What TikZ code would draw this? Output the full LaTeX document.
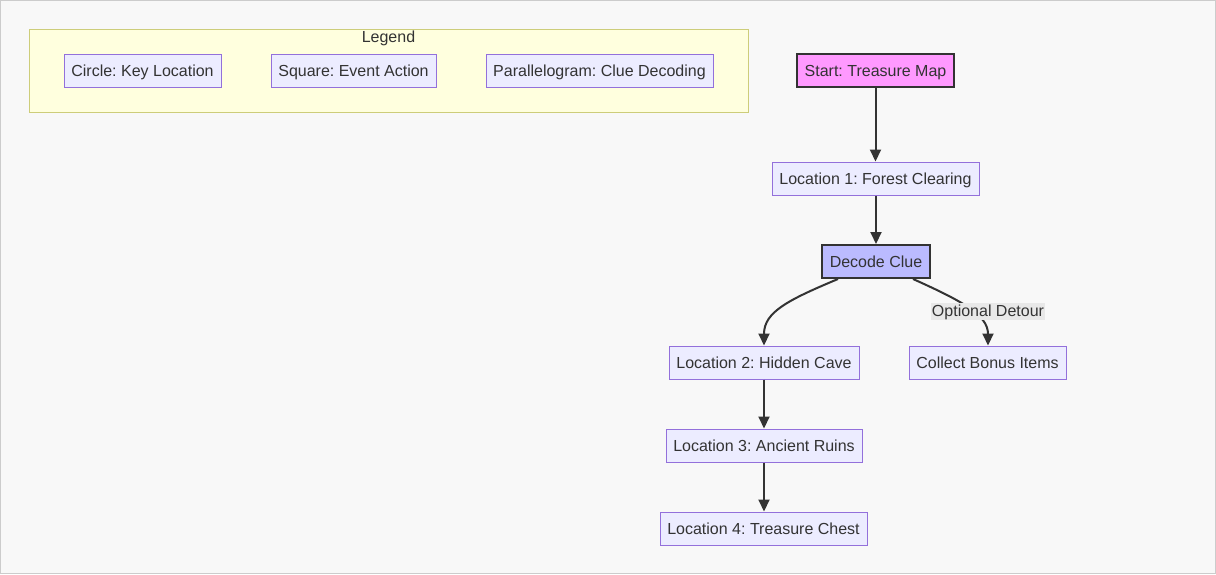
\documentclass[tikz,border=0pt]{standalone}
\usepackage{fontspec}
\setmainfont{Liberation Sans}
\usetikzlibrary{arrows.meta}
\frenchspacing
\definecolor{bg}{HTML}{F8F8F8}
\definecolor{frame}{HTML}{CCCCCC}
\definecolor{nfill}{HTML}{ECECFF}
\definecolor{nstroke}{HTML}{9370DB}
\definecolor{txt}{HTML}{333333}
\definecolor{legfill}{HTML}{FFFFDE}
\definecolor{legstroke}{HTML}{CDCD7A}
\definecolor{pink}{HTML}{FF99FF}
\definecolor{lav}{HTML}{BBBBFF}
\definecolor{lblbg}{HTML}{E8E8E8}
\begin{document}
\begin{tikzpicture}[x=1pt,y=-1pt,
  every node/.style={font=\fontsize{16}{19}\selectfont, text=txt},
  box/.style={draw=nstroke, fill=nfill, line width=1pt, minimum height=33pt, inner sep=0pt, text height=15pt, text depth=2.6pt, anchor=center},
  dark/.style={draw=txt, line width=2pt},
  edge/.style={draw=txt, line width=2pt, -{Triangle[length=12pt,width=11pt]}},
  lbl/.style={fill=lblbg, inner xsep=1pt, inner ysep=0.5pt, text height=13pt, text depth=3pt}
]
\useasboundingbox (0,0) rectangle (1216,574);
\draw[fill=bg, draw=frame] (0.5,0.5) rectangle (1215.5,573.5);

% legend
\node[draw=legstroke, fill=legfill, line width=1pt, minimum width=719pt, minimum height=83pt, inner sep=0pt] (leg) at (388.5,70.5) {};
\node[text height=13pt, text depth=3pt, inner sep=0pt] (legt) at (388.5,37.5) {Legend};
\node[box, minimum width=157pt] (lc) at (142.5,70.5) {Circle: Key Location};
\node[box, minimum width=165pt] (ls) at (353.5,70.5) {Square: Event Action};
\node[box, minimum width=227pt] (lp) at (599.5,70.5) {Parallelogram: Clue Decoding};

% flow
\node[box, dark, fill=pink, minimum width=157pt] (start) at (875.5,70.5) {Start: Treasure Map};
\node[box, minimum width=207pt] (l1) at (875.5,178.5) {Location 1: Forest Clearing};
\node[box, dark, fill=lav, minimum width=108pt] (dec) at (876,261.5) {Decode Clue};
\node[box, minimum width=190pt] (l2) at (764,362.5) {Location 2: Hidden Cave};
\node[box, minimum width=157pt] (col) at (987.5,362.5) {Collect Bonus Items};
\node[box, minimum width=196pt] (l3) at (764,445.5) {Location 3: Ancient Ruins};
\node[box, minimum width=207pt] (l4) at (763.5,528.5) {Location 4: Treasure Chest};

\draw[edge] (start.south) -- (start.south |- l1.north);
\draw[edge] (l1.south -| dec.north) -- (dec.north);
\draw[edge] ([xshift=-38pt]dec.south) .. controls (788,300) and (764,312) .. (l2.north);
\draw[edge] ([xshift=37pt]dec.south) .. controls (962,301) and (988,315) .. ([xshift=0.5pt]col.north);
\node[lbl] (det) at (988,311.5) {Optional Detour};
\draw[edge] (l2.south) -- (l3.north);
\draw[edge] (l3.south) -- (l3.south |- l4.north);
\end{tikzpicture}
\end{document}
